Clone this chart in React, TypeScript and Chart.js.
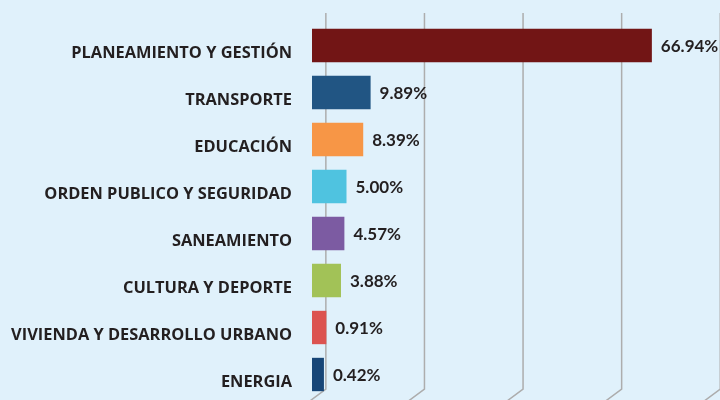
import React, { useEffect, useRef } from "react";
import { Chart, registerables } from "chart.js";

Chart.register(...registerables);

const categories = [
  "PLANEAMIENTO Y GESTIÓN",
  "TRANSPORTE",
  "EDUCACIÓN",
  "ORDEN PUBLICO Y SEGURIDAD",
  "SANEAMIENTO",
  "CULTURA Y DEPORTE",
  "VIVIENDA Y DESARROLLO URBANO",
  "ENERGIA",
];
const values = [66.94, 9.89, 8.39, 5.0, 4.57, 3.88, 0.91, 0.42];
const valueLabels = ["66.94%", "9.89%", "8.39%", "5.00%", "4.57%", "3.88%", "0.91%", "0.42%"];
const barColors = ["#721515", "#215583", "#f79646", "#4fc3e0", "#7c5ba2", "#a2c257", "#dc5350", "#174677"];
const gridTicks = [0, 20, 40, 60, 80];

const BG = "#e0f1fb";
const TEXT = "#231f20";

const bgPlugin = {
  id: "bg",
  beforeDraw(chart: any) {
    const { ctx, width, height } = chart;
    ctx.save();
    ctx.fillStyle = BG;
    ctx.fillRect(0, 0, width, height);
    ctx.restore();
  },
};

const gridPlugin = {
  id: "grid3d",
  beforeDatasetsDraw(chart: any) {
    const { ctx, chartArea } = chart;
    const xs = chart.scales.x;
    const depth = 4;
    const top = chartArea.top - 9;
    const bottom = chartArea.bottom - 9;
    ctx.save();
    ctx.strokeStyle = "#adadad";
    ctx.lineWidth = 1.5;
    gridTicks.forEach((t) => {
      const x = xs.getPixelForValue(t) + depth;
      ctx.beginPath();
      ctx.moveTo(x, top);
      ctx.lineTo(x, bottom);
      ctx.lineTo(x - 16, bottom + 12);
      ctx.stroke();
    });
    ctx.restore();
  },
};

const valueLabelPlugin = {
  id: "valueLabels",
  afterDatasetsDraw(chart: any) {
    const { ctx } = chart;
    const meta = chart.getDatasetMeta(0);
    ctx.save();
    ctx.fillStyle = TEXT;
    ctx.font = "bold 17px Lato";
    ctx.textAlign = "left";
    ctx.textBaseline = "middle";
    meta.data.forEach((bar: any, i: number) => {
      ctx.fillText(valueLabels[i], bar.x + 9, bar.y + 1);
    });
    ctx.restore();
  },
};

export default function App() {
  const ref = useRef<HTMLCanvasElement>(null);
  useEffect(() => {
    if (!ref.current) return;
    const chart = new Chart(ref.current, {
      type: "bar",
      data: {
        labels: categories,
        datasets: [
          {
            data: values,
            backgroundColor: barColors,
            base: -2,
            barPercentage: 0.71,
            categoryPercentage: 1,
            borderWidth: 0,
          } as any,
        ],
      },
      options: {
        indexAxis: "y",
        animation: false,
        responsive: false,
        maintainAspectRatio: false,
        layout: { padding: { top: 22, bottom: 2, left: 0, right: 0 } },
        plugins: {
          legend: { display: false },
          tooltip: { enabled: false },
        },
        scales: {
          x: {
            display: false,
            min: -2,
            max: 80.76,
          },
          y: {
            grid: { display: false, drawTicks: false },
            border: { display: false },
            afterFit(scale: any) {
              scale.width = 312;
              scale.paddingTop = 0;
              scale.paddingBottom = 0;
            },
            ticks: {
              color: TEXT,
              padding: 20,
              labelOffset: 8,
              font: { family: "Open Sans", weight: "bold", size: 16.4 },
            },
          },
        },
      },
      plugins: [bgPlugin, gridPlugin, valueLabelPlugin],
    });
    return () => chart.destroy();
  }, []);
  return (
    <div style={{ position: "fixed", left: 0, top: 0, width: 720, height: 400, background: BG }}>
      <canvas ref={ref} width={720} height={400} style={{ display: "block", width: 720, height: 400 }} />
    </div>
  );
}
